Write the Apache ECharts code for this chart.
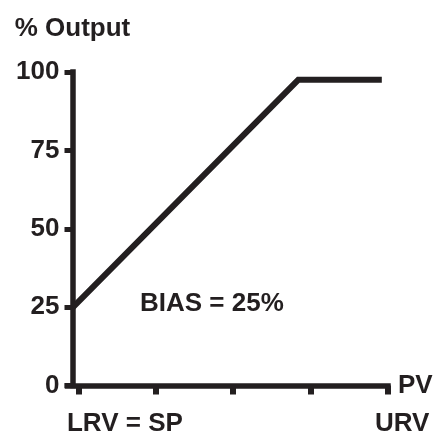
<!DOCTYPE html>
<html>
<head>
<meta charset="utf-8">
<script src="https://cdn.jsdelivr.net/npm/echarts@6/dist/echarts.min.js"></script>
<style>html,body{margin:0;padding:0;background:#fff;}#c{width:436px;height:435px;}</style>
</head>
<body>
<div id="c"></div>
<script>
// Data
const yTicks = [0, 25, 50, 75, 100];
const xTickValues = [0, 1, 2, 3, 4];
const xTickLabels = ['LRV = SP', 'URV'];
const xTickLabelValues = [0, 4];
const lineX = [-0.07, 2.84, 3.92];
const lineY = [25, 97.5, 97.5];
const yAxisTitle = '% Output';
const xAxisTitle = 'PV';
const annotation = 'BIAS = 25%';

const INK = '#231f20';
const FONT = '"Liberation Sans", Arial, Helvetica, sans-serif';

const chart = echarts.init(document.getElementById('c'), null, {renderer: 'canvas'});
const seriesData = lineX.map((x, i) => [x, lineY[i]]);

chart.setOption({
  animation: false,
  backgroundColor: '#ffffff',
  grid: {left: 67.5, right: 48, top: 72, bottom: 49.5, containLabel: false},
  xAxis: {
    type: 'value', min: -0.142, max: 4,
    name: xAxisTitle, nameLocation: 'end', nameGap: 10,
    nameTextStyle: {color: INK, fontSize: 26, fontWeight: 'bold', fontFamily: FONT, verticalAlign: 'middle', align: 'left', padding: [5, 0, 0, 0]},
    axisLine: {show: true, onZero: false, lineStyle: {color: INK, width: 5.5, cap: 'square'}},
    axisTick: {show: true, inside: false, length: 9, customValues: xTickValues, lineStyle: {color: INK, width: 6}},
    axisLabel: {show: false},
    splitLine: {show: false}
  },
  yAxis: {
    type: 'value', min: 0, max: 100, interval: 25, offset: -5,
    name: yAxisTitle, nameLocation: 'end', nameGap: 43,
    nameTextStyle: {color: INK, fontSize: 26, fontWeight: 'bold', fontFamily: FONT, verticalAlign: 'middle', align: 'center'},
    axisLine: {show: true, onZero: false, lineStyle: {color: INK, width: 5.5, cap: 'square'}},
    axisTick: {show: true, inside: false, length: 8, lineStyle: {color: INK, width: 5}},
    axisLabel: {show: true, margin: 13, color: INK, fontSize: 26, fontWeight: 'bold', fontFamily: FONT,
      formatter: v => yTicks.indexOf(v) >= 0 ? String(v) : ''},
    splitLine: {show: false}
  },
  series: [{
    type: 'line', data: seriesData, showSymbol: false, symbol: 'none',
    lineStyle: {color: INK, width: 6, join: 'miter', cap: 'butt'},
    z: 3
  }]
});

const p0 = chart.convertToPixel({gridIndex: 0}, [xTickLabelValues[0], 0]);
const p1 = chart.convertToPixel({gridIndex: 0}, [xTickLabelValues[1], 0]);
const labelStyle = {fill: INK, fontSize: 26, fontWeight: 'bold', fontFamily: FONT, textVerticalAlign: 'middle', verticalAlign: 'middle', textAlign: 'left', align: 'left'};
chart.setOption({
  graphic: [
    {type: 'text', x: p0[0] - 11.5, y: p0[1] + 38, style: Object.assign({text: xTickLabels[0]}, labelStyle)},
    {type: 'text', x: p1[0] - 13, y: p1[1] + 38, style: Object.assign({text: xTickLabels[1]}, labelStyle)},
    {type: 'text', x: 140, y: 304, style: Object.assign({text: annotation}, labelStyle)}
  ]
});
</script>
</body>
</html>
